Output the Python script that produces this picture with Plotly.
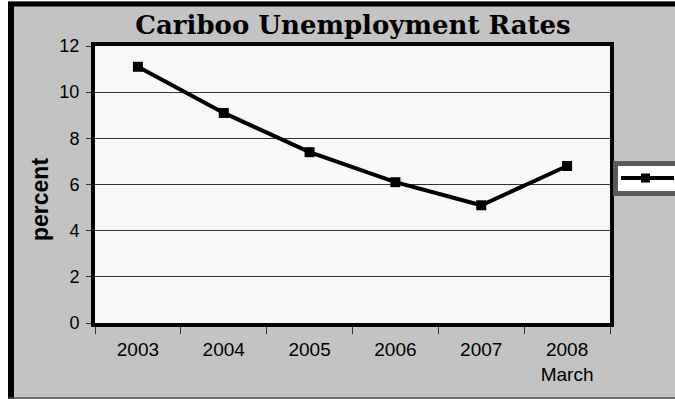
import plotly.graph_objects as go

categories = ["2003", "2004", "2005", "2006", "2007", "2008<br>March"]
rates = [11.1, 9.1, 7.4, 6.1, 5.1, 6.8]
y_ticks = [0, 2, 4, 6, 8, 10, 12]

W, H = 675, 399
L, R, T, B = 95, 65, 46, 76
pw, ph = W - L - R, H - T - B

def px(x):
    return (x - L) / pw

def py(y):
    return (H - B - y) / ph

fig = go.Figure()
fig.add_trace(go.Scatter(
    x=categories, y=rates, mode="lines+markers", name=" ",
    line=dict(color="black", width=4),
    marker=dict(symbol="square", size=10, color="black"),
    showlegend=False,
))

shapes = [
    # white strip left and top
    dict(type="rect", xref="paper", yref="paper", x0=px(-5), x1=px(8), y0=py(-5), y1=py(H + 5),
         fillcolor="white", line=dict(width=0), layer="above"),
    dict(type="rect", xref="paper", yref="paper", x0=px(-5), x1=px(W + 5), y0=py(-5), y1=py(1),
         fillcolor="white", line=dict(width=0), layer="above"),
    # outer black border (left + top)
    dict(type="line", xref="paper", yref="paper", x0=px(11), x1=px(11), y0=py(2), y1=py(H + 5),
         line=dict(color="black", width=6), layer="above"),
    dict(type="line", xref="paper", yref="paper", x0=px(8), x1=px(W + 5), y0=py(4), y1=py(4),
         line=dict(color="black", width=5), layer="above"),
    # bottom thin line
    dict(type="line", xref="paper", yref="paper", x0=px(8), x1=px(W + 5), y0=py(398), y1=py(398),
         line=dict(color="#555555", width=1.5), layer="above"),
    # legend box (clipped at right edge like the reference)
    dict(type="rect", xref="paper", yref="paper", x0=px(615.5), x1=px(W + 20), y0=py(163.5), y1=py(193.5),
         fillcolor="white", line=dict(color="#5a5a5a", width=5), layer="above"),
    dict(type="line", xref="paper", yref="paper", x0=px(621), x1=px(674), y0=py(178), y1=py(178),
         line=dict(color="black", width=4), layer="above"),
    dict(type="rect", xref="paper", yref="paper", x0=px(641), x1=px(650), y0=py(173.5), y1=py(182.5),
         fillcolor="black", line=dict(width=0), layer="above"),
]

fig.update_layout(
    width=W, height=H,
    margin=dict(l=L, r=R, t=T, b=B),
    paper_bgcolor="#c3c3c3",
    plot_bgcolor="#f8f8f8",
    shapes=shapes,
    title=dict(text="<b>Cariboo Unemployment Rates</b>", x=px(353), xref="paper", xanchor="center",
               y=1 - 25 / H, yref="container", yanchor="middle",
               font=dict(family="DejaVu Serif", size=26, color="black")),
    font=dict(family="Liberation Sans", color="black"),
    annotations=[dict(text="<b>percent</b>", textangle=-90, xref="paper", yref="paper",
                      x=px(40), y=py(200), xanchor="center", yanchor="middle", showarrow=False,
                      font=dict(size=23, family="Liberation Sans", color="black"))],
)

fig.update_xaxes(
    type="category", tickson="boundaries", ticks="outside", ticklen=7, tickwidth=1,
    tickcolor="#333333", showline=True, linecolor="black", linewidth=4, mirror=True,
    showgrid=False, tickfont=dict(size=19, family="Liberation Sans", color="black"),
    ticklabelstandoff=6, range=[-0.5, 5.5], fixedrange=True,
)
fig.update_yaxes(
    range=[0, 12], tickvals=y_ticks, ticks="outside", ticklen=5, tickwidth=1,
    tickcolor="#333333", showline=True, linecolor="black", linewidth=4, mirror=True,
    showgrid=True, gridcolor="#333333", gridwidth=1, zeroline=False,
    tickfont=dict(size=18, family="Liberation Sans", color="black"),
    ticklabelstandoff=3,
)

fig.write_html("out.html")
